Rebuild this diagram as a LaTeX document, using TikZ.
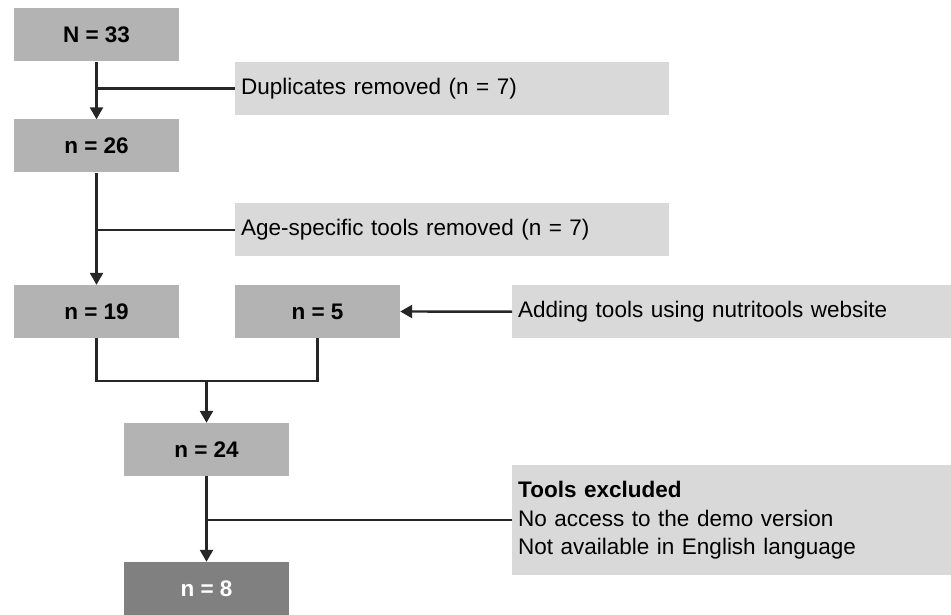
\documentclass[tikz,border=0pt]{standalone}
\usepackage{fontspec}
\setmainfont{Liberation Sans}
\usetikzlibrary{arrows.meta}
\definecolor{boxgray}{HTML}{B3B3B3}
\definecolor{notegray}{HTML}{D9D9D9}
\definecolor{finalgray}{HTML}{808080}
\begin{document}
\begin{tikzpicture}[x=1pt,y=-1pt,
  count/.style={fill=boxgray, minimum width=165pt, minimum height=53pt,
    inner sep=0pt, font=\fontsize{22.5}{26}\selectfont\bfseries},
  note/.style={fill=notegray, minimum height=53pt, inner xsep=6pt, inner ysep=0pt,
    align=left, font=\fontsize{22.5}{26}\selectfont, anchor=north west},
  link/.style={line width=2.4pt, draw=black!85},
  arr/.style={link, -{Triangle[width=13pt,length=12pt]}}]
  \useasboundingbox (0,0) rectangle (951,615);

  % counts
  \node[count] (n33) at (96.5,35) {N = 33};
  \node[count] (n26) at (96.5,146) {n = 26};
  \node[count] (n19) at (96.5,311.5) {n = 19};
  \node[count] (n5)  at (317.5,311.5) {n = 5};
  \node[count] (n24) at (206.5,449.5) {n = 24};
  \node[count, fill=finalgray, text=white] (n8) at (206.5,588.5) {n = 8};

  % side notes
  \node[note, text width=422pt] (dup) at (235,62) {Duplicates removed (n = 7)};
  \node[note, text width=422pt] (age) at (235,203) {Age-specific tools removed (n = 7)};
  \node[note, text width=427pt] (add) at (512,285) {Adding tools using nutritools website};
  \node[note, text width=427pt, minimum height=110pt,
        font=\fontsize{22.5}{28.5}\selectfont] (excl) at (512,465)
        {\textbf{Tools excluded}\\No access to the demo version\\Not available in English language};

  % main flow
  \draw[arr] (n33.south) -- (n26.north);
  \draw[link] (dup.west) -- (dup.west -| n33.south);
  \draw[arr] (n26.south) -- (n19.north);
  \draw[link] (age.west) -- (age.west -| n26.south);
  \draw[arr] (add.west) -- (n5.east);

  % merge of the two counts
  \coordinate (join) at (206.5,381);
  \draw[link] (n19.south) |- (join) -| (n5.south);
  \draw[arr] (join) -- (n24.north);

  \draw[arr] (n24.south) -- (n8.north);
  \draw[link] (excl.west) -- (excl.west -| n24.south);
\end{tikzpicture}
\end{document}
